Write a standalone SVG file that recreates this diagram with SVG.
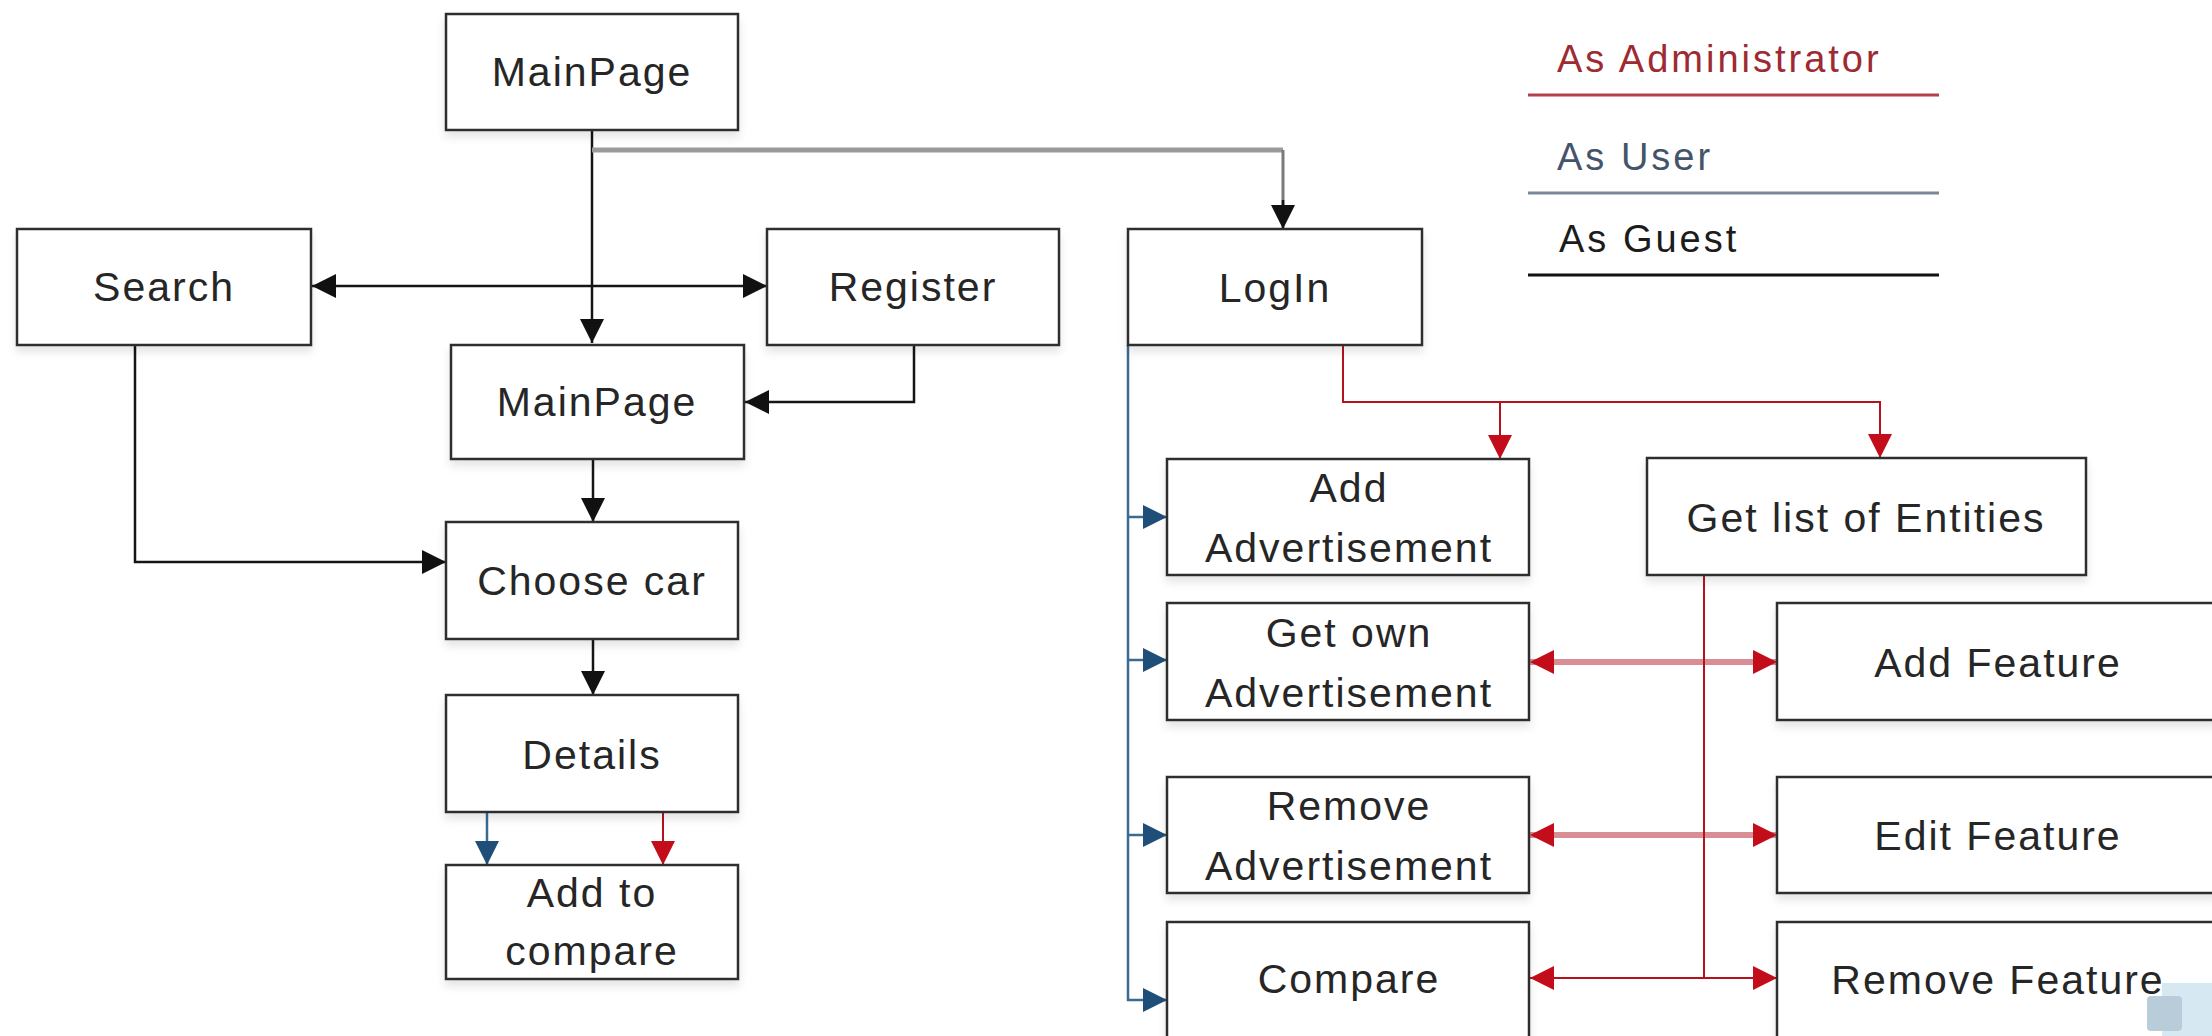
<svg xmlns="http://www.w3.org/2000/svg" width="2212" height="1036" viewBox="0 0 2212 1036">
<style>
  .box { fill: #ffffff; stroke: #2e2e2e; stroke-width: 2.5; filter: url(#sh); }
  .t { font-family: "Liberation Sans", Arial, sans-serif; font-size: 41px; letter-spacing: 2px; fill: #262626; text-anchor: middle; }
  .lg { font-family: "Liberation Sans", Arial, sans-serif; font-size: 38px; letter-spacing: 3px; }
  .k { fill: none; stroke: #151515; stroke-width: 2.5; }
  .g { fill: none; stroke: #9a9a9a; stroke-width: 5; }
  .gv { fill: none; stroke: #7a7a7a; stroke-width: 3; }
  .r { fill: none; stroke: #b3121e; stroke-width: 2; }
  .rp { fill: none; stroke: #d98e95; stroke-width: 6; }
  .b { fill: none; stroke: #3a6a90; stroke-width: 2.5; }
</style>
<defs>
  <filter id="sh" x="-5%" y="-5%" width="110%" height="130%">
    <feDropShadow dx="0" dy="6" stdDeviation="4" flood-color="#000" flood-opacity="0.10"/>
  </filter>
  <marker id="ak" viewBox="0 0 24 24" refX="24" refY="12" markerWidth="24" markerHeight="24" markerUnits="userSpaceOnUse" orient="auto-start-reverse">
    <path d="M0,0 L24,12 L0,24 z" fill="#111"/>
  </marker>
  <marker id="ar" viewBox="0 0 24 24" refX="24" refY="12" markerWidth="24" markerHeight="24" markerUnits="userSpaceOnUse" orient="auto-start-reverse">
    <path d="M0,0 L24,12 L0,24 z" fill="#c40d1a"/>
  </marker>
  <marker id="ab" viewBox="0 0 24 24" refX="24" refY="12" markerWidth="24" markerHeight="24" markerUnits="userSpaceOnUse" orient="auto-start-reverse">
    <path d="M0,0 L24,12 L0,24 z" fill="#1f4e79"/>
  </marker>
</defs>
<rect x="0" y="0" width="2212" height="1036" fill="#ffffff"/>

<g id="legend">
  <text class="lg" x="1557" y="72" fill="#9e2a32">As Administrator</text>
  <line x1="1528" y1="95" x2="1939" y2="95" stroke="#b3404c" stroke-width="3"/>
  <text class="lg" x="1557" y="170" fill="#44546a">As User</text>
  <line x1="1528" y1="193" x2="1939" y2="193" stroke="#7a8796" stroke-width="3"/>
  <text class="lg" x="1559" y="252" fill="#1c1c1c">As Guest</text>
  <line x1="1528" y1="275" x2="1939" y2="275" stroke="#111" stroke-width="3"/>
</g>

<g id="connectors">
  <path class="k" d="M592,130 V343" marker-end="url(#ak)"/>
  <path class="g" d="M592,150 H1283"/>
  <path class="gv" d="M1283,150 V206"/>
  <path class="k" d="M1283,200 V229" marker-end="url(#ak)"/>
  <path class="k" d="M312,286 H767" marker-start="url(#ak)" marker-end="url(#ak)"/>
  <path class="k" d="M914,345 V402 H745" marker-end="url(#ak)"/>
  <path class="k" d="M135,345 V562 H446" marker-end="url(#ak)"/>
  <path class="k" d="M593,459 V522" marker-end="url(#ak)"/>
  <path class="k" d="M593,639 V695" marker-end="url(#ak)"/>
  <path class="b" d="M487,812 V865" marker-end="url(#ab)"/>
  <path class="r" d="M663,812 V865" marker-end="url(#ar)"/>
  <path class="r" d="M1343,345 V402 H1880 V458" marker-end="url(#ar)"/>
  <path class="r" d="M1500,402 V459" marker-end="url(#ar)"/>
  <path class="b" d="M1128,345 V1000 H1167" marker-end="url(#ab)"/>
  <path class="b" d="M1128,517 H1167" marker-end="url(#ab)"/>
  <path class="b" d="M1128,660 H1167" marker-end="url(#ab)"/>
  <path class="b" d="M1128,835 H1167" marker-end="url(#ab)"/>
  <path class="rp" d="M1530,662 H1777" marker-start="url(#ar)" marker-end="url(#ar)"/>
  <path class="rp" d="M1530,835 H1777" marker-start="url(#ar)" marker-end="url(#ar)"/>
  <path class="r" d="M1530,978 H1777" marker-start="url(#ar)" marker-end="url(#ar)"/>
  <path class="r" d="M1704,575 V978"/>
</g>

<g id="mainpage1"><rect class="box" x="446" y="14" width="292" height="116"/><text class="t" x="592" y="86">MainPage</text></g>
<g id="search"><rect class="box" x="17" y="229" width="294" height="116"/><text class="t" x="164" y="301">Search</text></g>
<g id="register"><rect class="box" x="767" y="229" width="292" height="116"/><text class="t" x="913" y="301">Register</text></g>
<g id="login"><rect class="box" x="1128" y="229" width="294" height="116"/><text class="t" x="1275" y="302">LogIn</text></g>
<g id="mainpage2"><rect class="box" x="451" y="345" width="293" height="114"/><text class="t" x="597" y="416">MainPage</text></g>
<g id="choosecar"><rect class="box" x="446" y="522" width="292" height="117"/><text class="t" x="592" y="595">Choose car</text></g>
<g id="details"><rect class="box" x="446" y="695" width="292" height="117"/><text class="t" x="592" y="769">Details</text></g>
<g id="addtocompare"><rect class="box" x="446" y="865" width="292" height="114"/><text class="t" x="592" y="907">Add to</text><text class="t" x="592" y="965">compare</text></g>
<g id="addadv"><rect class="box" x="1167" y="459" width="362" height="116"/><text class="t" x="1349" y="502">Add</text><text class="t" x="1349" y="562">Advertisement</text></g>
<g id="getlist"><rect class="box" x="1647" y="458" width="439" height="117"/><text class="t" x="1866" y="532">Get list of Entities</text></g>
<g id="getownadv"><rect class="box" x="1167" y="603" width="362" height="117"/><text class="t" x="1349" y="647">Get own</text><text class="t" x="1349" y="707">Advertisement</text></g>
<g id="addfeature"><rect class="box" x="1777" y="603" width="442" height="117"/><text class="t" x="1998" y="677">Add Feature</text></g>
<g id="removeadv"><rect class="box" x="1167" y="777" width="362" height="116"/><text class="t" x="1349" y="820">Remove</text><text class="t" x="1349" y="880">Advertisement</text></g>
<g id="editfeature"><rect class="box" x="1777" y="777" width="442" height="116"/><text class="t" x="1998" y="850">Edit Feature</text></g>
<g id="compare"><rect class="box" x="1167" y="922" width="362" height="118"/><text class="t" x="1349" y="993">Compare</text></g>
<g id="removefeature"><rect class="box" x="1777" y="922" width="442" height="118"/><text class="t" x="1998" y="994">Remove Feature</text></g>

<g id="overlay">
  <rect x="2162" y="983" width="50" height="53" fill="#d6e9f2"/>
  <rect x="2147" y="996" width="35" height="35" rx="4" fill="#b9ccd9"/>
</g>
</svg>
